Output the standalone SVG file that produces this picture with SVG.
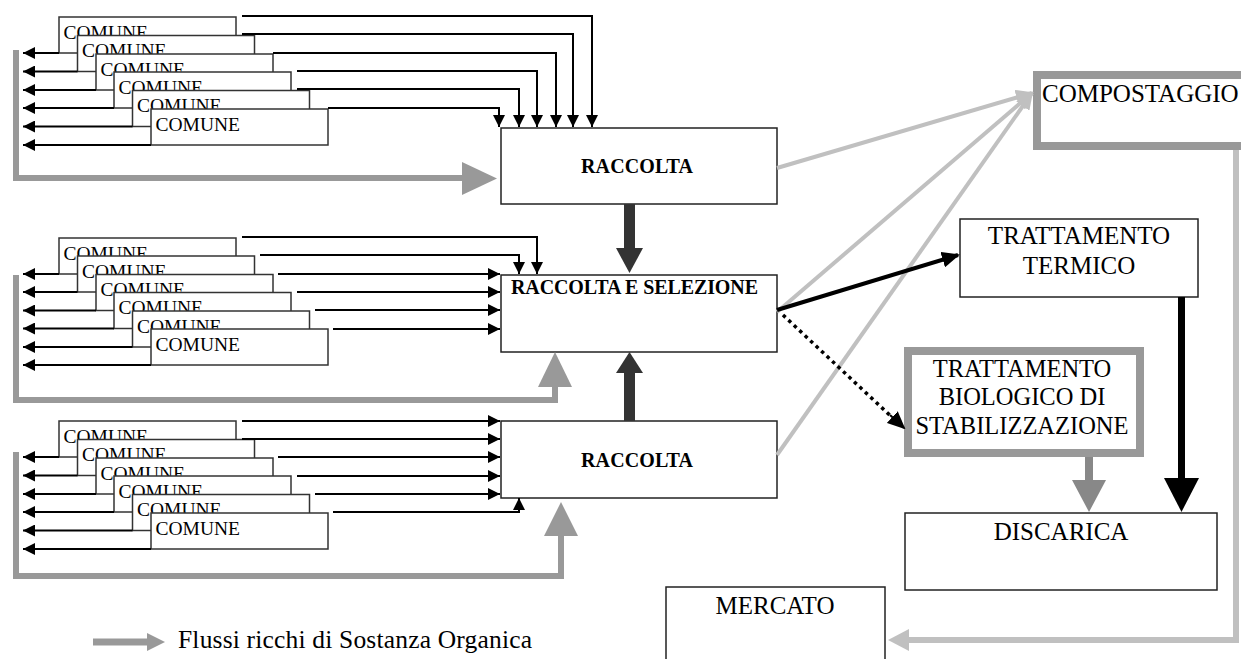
<svg xmlns="http://www.w3.org/2000/svg" width="1241" height="659" viewBox="0 0 1241 659">
<style>
text{font-family:"Liberation Serif","Times New Roman",serif;fill:#000}
.cm rect{fill:#fff;stroke:#333;stroke-width:1.5}
.cm text{font-size:19.5px}
.bx{fill:#fff;stroke:#222;stroke-width:1.5}
.bold{font-size:20px;font-weight:bold}
.big{font-size:25px}
.thin{fill:none;stroke:#000;stroke-width:2}
.flow{fill:none;stroke:#999;stroke-width:6}
.light{fill:none;stroke:#c0c0c0;stroke-width:4}
</style>
<defs>
<marker id="ab" markerWidth="12" markerHeight="12" refX="12" refY="6" orient="auto" markerUnits="userSpaceOnUse"><path d="M0,0 L12,6 L0,12 z" fill="#000"/></marker>
<marker id="al" markerWidth="18" markerHeight="16" refX="16" refY="8" orient="auto" markerUnits="userSpaceOnUse"><path d="M0,0 L18,8 L0,16 z" fill="#c0c0c0"/></marker>
<marker id="abig" markerWidth="18" markerHeight="16" refX="16" refY="8" orient="auto" markerUnits="userSpaceOnUse"><path d="M0,0 L18,8 L0,16 z" fill="#000"/></marker>
</defs>

<!-- top stack -->
<g id="comune-t1" class="cm"><rect x="59" y="17" width="177" height="36"/><text x="63.5" y="38.5">COMUNE</text></g>
<g id="comune-t2" class="cm"><rect x="77.5" y="35.5" width="177" height="36"/><text x="82" y="57">COMUNE</text></g>
<g id="comune-t3" class="cm"><rect x="96" y="54" width="177" height="36"/><text x="100.5" y="75.5">COMUNE</text></g>
<g id="comune-t4" class="cm"><rect x="114" y="72" width="177" height="36"/><text x="118.5" y="93.5">COMUNE</text></g>
<g id="comune-t5" class="cm"><rect x="132.5" y="90.5" width="177" height="36"/><text x="137" y="112">COMUNE</text></g>
<g id="comune-t6" class="cm"><rect x="151" y="109" width="177" height="36"/><text x="155.5" y="130.5">COMUNE</text></g>

<!-- middle stack -->
<g id="comune-m1" class="cm"><rect x="59" y="238" width="177" height="36"/><text x="63.5" y="259.5">COMUNE</text></g>
<g id="comune-m2" class="cm"><rect x="77.5" y="256" width="177" height="36"/><text x="82" y="277.5">COMUNE</text></g>
<g id="comune-m3" class="cm"><rect x="96" y="274.5" width="177" height="36"/><text x="100.5" y="296">COMUNE</text></g>
<g id="comune-m4" class="cm"><rect x="114" y="292.5" width="177" height="36"/><text x="118.5" y="314">COMUNE</text></g>
<g id="comune-m5" class="cm"><rect x="132.5" y="311" width="177" height="36"/><text x="137" y="332.5">COMUNE</text></g>
<g id="comune-m6" class="cm"><rect x="151" y="329" width="177" height="36"/><text x="155.5" y="350.5">COMUNE</text></g>

<!-- bottom stack -->
<g id="comune-b1" class="cm"><rect x="59" y="421" width="177" height="36"/><text x="63.5" y="442.5">COMUNE</text></g>
<g id="comune-b2" class="cm"><rect x="77.5" y="439.5" width="177" height="36"/><text x="82" y="461">COMUNE</text></g>
<g id="comune-b3" class="cm"><rect x="96" y="458" width="177" height="36"/><text x="100.5" y="479.5">COMUNE</text></g>
<g id="comune-b4" class="cm"><rect x="114" y="476" width="177" height="36"/><text x="118.5" y="497.5">COMUNE</text></g>
<g id="comune-b5" class="cm"><rect x="132.5" y="494.5" width="177" height="36"/><text x="137" y="516">COMUNE</text></g>
<g id="comune-b6" class="cm"><rect x="151" y="513" width="177" height="36"/><text x="155.5" y="534.5">COMUNE</text></g>

<g id="raccolta-top"><rect class="bx" x="501" y="128" width="276" height="76"/><text class="bold" x="637" y="173" text-anchor="middle" textLength="112">RACCOLTA</text></g>
<g id="raccolta-selezione"><rect class="bx" x="501" y="275" width="276" height="77"/><text class="bold" x="511" y="294" textLength="247">RACCOLTA E SELEZIONE</text></g>
<g id="raccolta-bottom"><rect class="bx" x="501" y="421" width="276" height="77"/><text class="bold" x="637" y="467" text-anchor="middle" textLength="112">RACCOLTA</text></g>

<g id="compostaggio"><rect x="1037" y="75" width="230" height="71" fill="#fff" stroke="#999" stroke-width="8"/><text class="big" x="1042" y="102">COMPOSTAGGIO</text></g>
<g id="trattamento-termico"><rect class="bx" x="960" y="219" width="238" height="78"/><text class="big" x="1079" y="244" text-anchor="middle">TRATTAMENTO</text><text class="big" x="1079" y="274" text-anchor="middle">TERMICO</text></g>
<g id="trattamento-biologico"><rect x="908" y="351" width="232" height="102" fill="#fff" stroke="#999" stroke-width="8"/><text class="big" x="1022" y="377" text-anchor="middle" style="font-size:24.5px">TRATTAMENTO</text><text class="big" x="1022" y="405" text-anchor="middle" style="font-size:24.5px">BIOLOGICO DI</text><text class="big" x="1022" y="434" text-anchor="middle" style="font-size:24.5px">STABILIZZAZIONE</text></g>
<g id="discarica"><rect class="bx" x="905" y="513" width="312" height="77"/><text class="big" x="1061" y="540" text-anchor="middle">DISCARICA</text></g>
<g id="mercato"><rect class="bx" x="666" y="587" width="219" height="100"/><text class="big" x="775" y="614" text-anchor="middle">MERCATO</text></g>

<g id="legend"><line x1="93" y1="642" x2="150" y2="642" stroke="#999" stroke-width="7"/><polygon points="147,633 165,642 147,651" fill="#999"/><text x="178" y="648" style="font-size:25.5px" textLength="354">Flussi ricchi di Sostanza Organica</text></g>

<g id="connectors">
<g marker-end="url(#ab)" class="thin">
<path d="M59,53H23"/><path d="M77.5,71.5H23"/><path d="M96,90H23"/><path d="M114,108H23"/><path d="M132.5,126.5H23"/><path d="M151,145H23"/>
<path d="M59,274H23"/><path d="M77.5,292H23"/><path d="M96,310.5H23"/><path d="M114,328.5H23"/><path d="M132.5,347H23"/><path d="M151,365H23"/>
<path d="M59,457H23"/><path d="M77.5,475.5H23"/><path d="M96,494H23"/><path d="M114,512H23"/><path d="M132.5,530.5H23"/><path d="M151,549H23"/>
<path d="M242,16H592V127"/><path d="M242,34H573V127"/><path d="M273,53H556V127"/><path d="M297,71H537V127"/><path d="M297,89H519V127"/><path d="M328,108H499V127"/>
<path d="M242,237H537V274"/><path d="M260,255H519V274"/><path d="M278,274H500"/><path d="M297,292H500"/><path d="M315,310H500"/><path d="M333,329H500"/>
<path d="M242,421H500"/><path d="M242,439H500"/><path d="M278,457H500"/><path d="M297,476H500"/><path d="M315,494H500"/><path d="M333,512H519V498"/>
</g>

<path class="flow" d="M16,50V178H465"/><polygon points="462,162 497,178.5 462,195" fill="#999"/>
<path class="flow" d="M16,275V400H555V385"/><polygon points="538,387 555,352 572,387" fill="#999"/>
<path class="flow" d="M16,452V576H561V534"/><polygon points="544,536 561,502 578,536" fill="#999"/>

<rect x="624" y="204" width="11" height="46" fill="#333"/><polygon points="616,248 629.5,273 643,248" fill="#333"/>
<rect x="624" y="371" width="11" height="50" fill="#333"/><polygon points="616,373 629.5,352 643,373" fill="#333"/>

<line class="light" x1="777" y1="168" x2="1032" y2="93" marker-end="url(#al)"/>
<line class="light" x1="777" y1="312" x2="1032" y2="93" marker-end="url(#al)"/>
<line class="light" x1="777" y1="455" x2="1032" y2="93" marker-end="url(#al)"/>

<line x1="777" y1="310" x2="958" y2="255" stroke="#000" stroke-width="4" marker-end="url(#abig)"/>
<line x1="783" y1="315" x2="896" y2="421" stroke="#000" stroke-width="3.5" stroke-dasharray="3.5 4"/>
<line x1="890" y1="415" x2="904" y2="428" stroke="#000" stroke-width="2" marker-end="url(#abig)"/>

<rect x="1178" y="297" width="7" height="183" fill="#000"/><polygon points="1164,478 1181.5,512 1199,478" fill="#000"/>
<rect x="1085" y="457" width="8" height="25" fill="#888"/><polygon points="1072,480 1089,512 1106,480" fill="#888"/>

<path d="M1236,150V640H905" fill="none" stroke="#c0c0c0" stroke-width="6"/><polygon points="909,629 888,640 909,651" fill="#c0c0c0"/>
</g>
</svg>
